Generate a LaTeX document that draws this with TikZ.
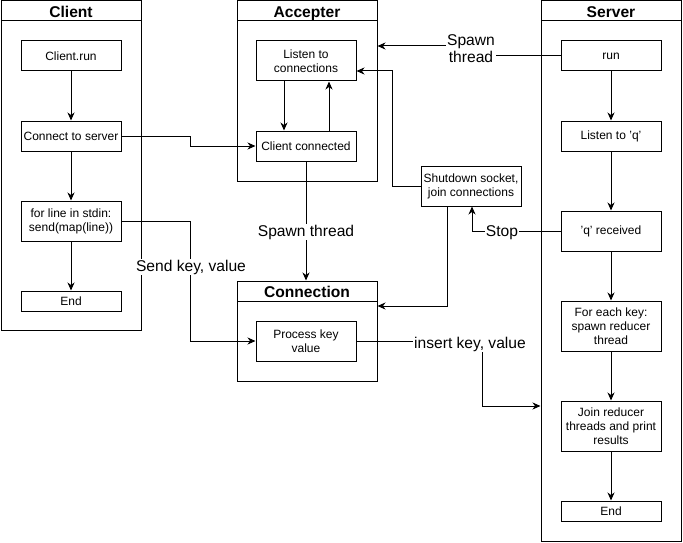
\documentclass[tikz,border=0pt]{standalone}
\usepackage{fontspec}
\setmainfont{Liberation Sans}
\usetikzlibrary{arrows.meta}
\begin{document}
\begin{tikzpicture}[x=1pt, y=-1pt, line width=1pt,
  box/.style={draw, minimum width=100pt, inner sep=0pt, align=center,
    font=\fontsize{12}{14}\selectfont},
  lane/.style={draw, minimum width=140pt, inner sep=0pt},
  lanetitle/.style={draw, minimum width=140pt, minimum height=20pt, inner sep=0pt,
    text height=13.2pt, text depth=0pt,
    font=\bfseries\fontsize{15.6}{18}\selectfont},
  arr/.style={-{Stealth[length=8pt, width=7pt, inset=2.5pt]}},
  lbl/.style={fill=white, inner sep=1pt, align=center,
    font=\fontsize{15.6}{17}\selectfont}]
\useasboundingbox (0,0) rectangle (683,543);

% swimlanes
\node[lane, minimum height=329pt] (cli) at (71,165.5) {};
\node[lanetitle] (cliT) at (71,11) {Client};
\node[lane, minimum height=180pt] (acc) at (307,91) {};
\node[lanetitle] (accT) at (307,11) {Accepter};
\node[lane, minimum height=100pt] (conn) at (307,331) {};
\node[lanetitle] (connT) at (307,291) {Connection};
\node[lane, minimum height=540pt] (srv) at (611,271) {};
\node[lanetitle] (srvT) at (611,11) {Server};

% client steps
\node[box, minimum height=30pt] (crun)  at (71,56)  {Client.run};
\node[box, minimum height=30pt] (cconn) at (71,136) {Connect to server};
\node[box, minimum height=40pt] (cfor)  at (71,221) {for line in stdin:\\send(map(line))};
\node[box, minimum height=20pt] (cend)  at (71,301) {End};

% accepter steps
\node[box, minimum height=40pt] (listen) at (306,61)  {Listen to\\connections};
\node[box, minimum height=30pt] (cc)     at (306,146) {Client connected};

% connection step
\node[box, minimum height=40pt] (pkv) at (306,341) {Process key\\value};

% shutdown
\node[box, minimum height=40pt] (shut) at (471,186) {Shutdown socket,\\join connections};

% server steps
\node[box, minimum height=30pt] (run)  at (611,56)  {run};
\node[box, minimum height=30pt] (lq)   at (611,136) {Listen to 'q'};
\node[box, minimum height=40pt] (qr)   at (611,231) {'q' received};
\node[box, minimum height=50pt] (fek)  at (611,326) {For each key:\\spawn reducer\\thread};
\node[box, minimum height=50pt] (join) at (611,426) {Join reducer\\threads and print\\results};
\node[box, minimum height=20pt] (send) at (611,511) {End};

% helper levels
\coordinate (y46)  at (0,46);
\coordinate (y306) at (0,306);
\coordinate (y406) at (0,406);

% client flow
\draw[arr] (crun) -- (cconn);
\draw[arr] (cconn) -- (cfor);
\draw[arr] (cfor) -- (cend);

% server flow
\draw[arr] (run) -- (lq);
\draw[arr] (lq) -- (qr);
\draw[arr] (qr) -- (fek);
\draw[arr] (fek) -- (join);
\draw[arr] (join) -- (send);

% accepter loop
\draw[arr] ([xshift=-22pt]listen.south) -- ([xshift=-22pt]cc.north);
\draw[arr] ([xshift=23pt]cc.north) -- ([xshift=23pt]listen.south);

% cross-lane connectors
\draw[arr] (cconn.east) -- (190,136) |- (cc.west);
\draw[arr] (cfor.east) -- (190,221) |- (pkv.west);
\node[lbl] (lsend) at (191,267) {Send key, value};

\draw[arr] (cc.south) -- (cc.south |- conn.north);
\node[lbl] (lspawn2) at (306,232) {Spawn thread};

\draw[arr] (run.west) -- (471,56) -- (471,46) -- (acc.east |- y46);
\node[lbl] (lspawn1) at (471,49) {Spawn\\thread};

\draw[arr] (shut.west) -- (392,186) |- ([yshift=-10pt]listen.east);
\draw[arr] ([xshift=-24pt]shut.south) |- (conn.east |- y306);

\draw[arr] (qr.west) -- (472,231) -- ([xshift=1pt]shut.south);
\node[lbl] (lstop) at (502,233) {Stop};

\draw[arr] (pkv.east) -- (482,341) -- (482,406) -- (srv.west |- y406);
\node[lbl] (linsert) at (470,344) {insert key, value};
\end{tikzpicture}
\end{document}
